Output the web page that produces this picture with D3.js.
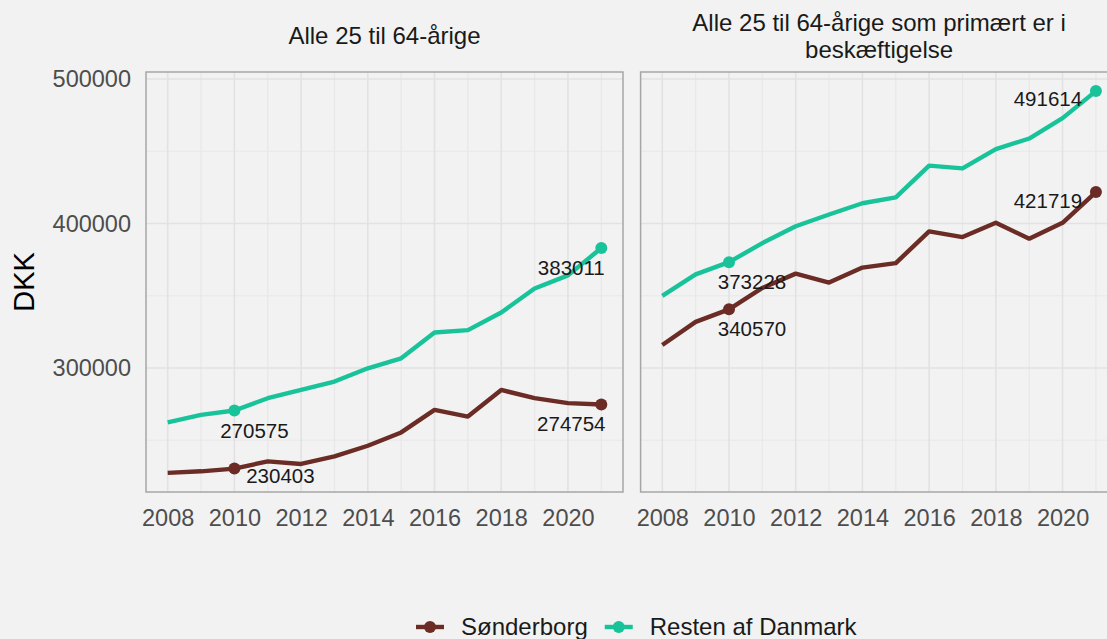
<!DOCTYPE html>
<html>
<head>
<meta charset="utf-8">
<script src="https://cdn.jsdelivr.net/npm/d3@7"></script>
<style>
  body { margin: 0; background: #f2f2f2; }
  svg { display: block; font-family: "Liberation Sans", Arial, sans-serif; }
</style>
</head>
<body>
<div id="chart"></div>
<script>
// data
const years = [2008, 2009, 2010, 2011, 2012, 2013, 2014, 2015, 2016, 2017, 2018, 2019, 2020, 2021];
const seriesNames = ["Sønderborg", "Resten af Danmark"];
const panelTitles = [["Alle 25 til 64-årige"], ["Alle 25 til 64-årige som primært er i", "beskæftigelse"]];

const sonderborgAll = [227400, 228500, 230403, 235400, 233600, 238900, 246200, 255400, 271000, 266400, 284800, 279100, 275700, 274754];
const restenAll     = [262300, 267600, 270575, 279100, 284800, 290600, 299800, 306700, 324600, 326200, 338400, 355000, 364100, 383011];
const sonderborgEmp = [315900, 331900, 340570, 355400, 365300, 359100, 369500, 372600, 394500, 390600, 400500, 389500, 400500, 421719];
const restenEmp     = [349900, 364800, 373228, 386400, 398100, 406200, 414000, 418100, 440000, 438100, 451500, 458800, 472900, 491614];

const yTicks = [300000, 400000, 500000];
const yMinor = [250000, 350000, 450000];
const xTicks = [2008, 2010, 2012, 2014, 2016, 2018, 2020];
const labelYears = [2010, 2021];

const colors = ["#6b2c25", "#19c39a"];

// layout
const W = 1107, H = 639;
const panelW = 477, panelH = 420, panelTop = 72;
const panelLeft = [146, 640.6];

const svg = d3.select("#chart").append("svg")
    .attr("width", W)
    .attr("height", H);

svg.append("rect").attr("width", W).attr("height", H).attr("fill", "#f2f2f2");

// shared scales (ggplot style 5% expansion)
const allVals = sonderborgAll.concat(restenAll, sonderborgEmp, restenEmp);
const vMin = d3.min(allVals), vMax = d3.max(allVals);
const vPad = (vMax - vMin) * 0.05;
const y = d3.scaleLinear()
    .domain([vMin - vPad, vMax + vPad])
    .range([panelTop + panelH, panelTop]);

const xPad = (d3.max(years) - d3.min(years)) * 0.05;

const panels = [
  {series: [sonderborgAll, restenAll],
   // label offsets [dx, dy] for the 2010 / 2021 labels, per series
   offsets: [[[46, 14], [-30, 27]], [[20, 27], [-30, 27]]]},
  {series: [sonderborgEmp, restenEmp],
   offsets: [[[23, 27], [-48, 16]], [[23, 27], [-48, 15]]]}
];

panels.forEach(function(p, pi) {
  const x = d3.scaleLinear()
      .domain([d3.min(years) - xPad, d3.max(years) + xPad])
      .range([panelLeft[pi], panelLeft[pi] + panelW]);

  const g = svg.append("g");

  // minor gridlines
  g.selectAll(".vminor")
    .data(years.filter(d => xTicks.indexOf(d) < 0))
    .join("line")
    .attr("x1", d => x(d)).attr("x2", d => x(d))
    .attr("y1", panelTop).attr("y2", panelTop + panelH)
    .attr("stroke", "#e8e8e8").attr("stroke-width", 1.2);
  g.selectAll(".hminor")
    .data(yMinor)
    .join("line")
    .attr("x1", panelLeft[pi]).attr("x2", panelLeft[pi] + panelW)
    .attr("y1", d => y(d)).attr("y2", d => y(d))
    .attr("stroke", "#e8e8e8").attr("stroke-width", 1.2);

  // major gridlines
  g.selectAll(".vmajor")
    .data(xTicks)
    .join("line")
    .attr("x1", d => x(d)).attr("x2", d => x(d))
    .attr("y1", panelTop).attr("y2", panelTop + panelH)
    .attr("stroke", "#e2e2e2").attr("stroke-width", 1.6);
  g.selectAll(".hmajor")
    .data(yTicks)
    .join("line")
    .attr("x1", panelLeft[pi]).attr("x2", panelLeft[pi] + panelW)
    .attr("y1", d => y(d)).attr("y2", d => y(d))
    .attr("stroke", "#e2e2e2").attr("stroke-width", 1.6);

  // panel border
  g.append("rect")
    .attr("x", panelLeft[pi]).attr("y", panelTop)
    .attr("width", panelW).attr("height", panelH)
    .attr("fill", "none")
    .attr("stroke", "#a6a6a6").attr("stroke-width", 1.5);

  // x axis
  const xAxis = g.append("g")
    .attr("transform", `translate(0, ${panelTop + panelH})`)
    .call(d3.axisBottom(x).tickValues(xTicks).tickFormat(d3.format("d")).tickSize(0).tickPadding(17));
  xAxis.select(".domain").remove();
  xAxis.selectAll("text")
    .attr("font-size", 23.5)
    .attr("font-family", "Liberation Sans, Arial, sans-serif")
    .attr("fill", "#4d4d4d");

  // title
  const title = g.append("text")
    .attr("text-anchor", "middle")
    .attr("font-size", 24)
    .attr("fill", "#1a1a1a");
  const lines = panelTitles[pi];
  lines.forEach(function(t, li) {
    title.append("tspan")
      .attr("x", panelLeft[pi] + panelW / 2)
      .attr("y", (lines.length === 1 ? 43.5 : 31) + li * 26.5)
      .text(t);
  });

  // lines
  const line = d3.line()
    .x((d, i) => x(years[i]))
    .y(d => y(d));

  p.series.forEach(function(vals, si) {
    g.append("path")
      .datum(vals)
      .attr("fill", "none")
      .attr("stroke", colors[si])
      .attr("stroke-width", 4.4)
      .attr("stroke-linejoin", "round")
      .attr("d", line);

    const pts = labelYears.map(yr => ({year: yr, value: vals[years.indexOf(yr)]}));

    g.selectAll(null)
      .data(pts)
      .join("circle")
      .attr("cx", d => x(d.year))
      .attr("cy", d => y(d.value))
      .attr("r", 6)
      .attr("fill", colors[si]);

    g.selectAll(null)
      .data(pts)
      .join("text")
      .attr("x", (d, i) => x(d.year) + p.offsets[si][i][0])
      .attr("y", (d, i) => y(d.value) + p.offsets[si][i][1])
      .attr("text-anchor", "middle")
      .attr("font-size", 20.5)
      .attr("fill", "#1a1a1a")
      .text(d => d.value);
  });
});

// y axis (left panel only)
const yAxis = svg.append("g")
  .attr("transform", `translate(${panelLeft[0]}, 0)`)
  .call(d3.axisLeft(y).tickValues(yTicks).tickFormat(d3.format("d")).tickSize(0).tickPadding(15));
yAxis.select(".domain").remove();
yAxis.selectAll("text")
  .attr("font-size", 23.5)
  .attr("font-family", "Liberation Sans, Arial, sans-serif")
  .attr("fill", "#4d4d4d");

// y axis title
svg.append("text")
  .attr("transform", `translate(34, ${panelTop + panelH / 2}) rotate(-90)`)
  .attr("text-anchor", "middle")
  .attr("font-size", 29)
  .attr("fill", "#000")
  .text("DKK");

// legend
const legend = svg.append("g").attr("transform", "translate(416, 627)");
let lx = 0;
seriesNames.forEach(function(name, i) {
  const item = legend.append("g").attr("transform", `translate(${lx}, 0)`);
  item.append("line")
    .attr("x1", 0).attr("x2", 28)
    .attr("stroke", colors[i]).attr("stroke-width", 4.4);
  item.append("circle")
    .attr("cx", 14).attr("r", 6).attr("fill", colors[i]);
  const t = item.append("text")
    .attr("x", 45).attr("y", 8)
    .attr("font-size", 24)
    .attr("fill", "#1a1a1a")
    .text(name);
  lx += 45 + t.node().getComputedTextLength() + 17;
});
</script>
</body>
</html>
